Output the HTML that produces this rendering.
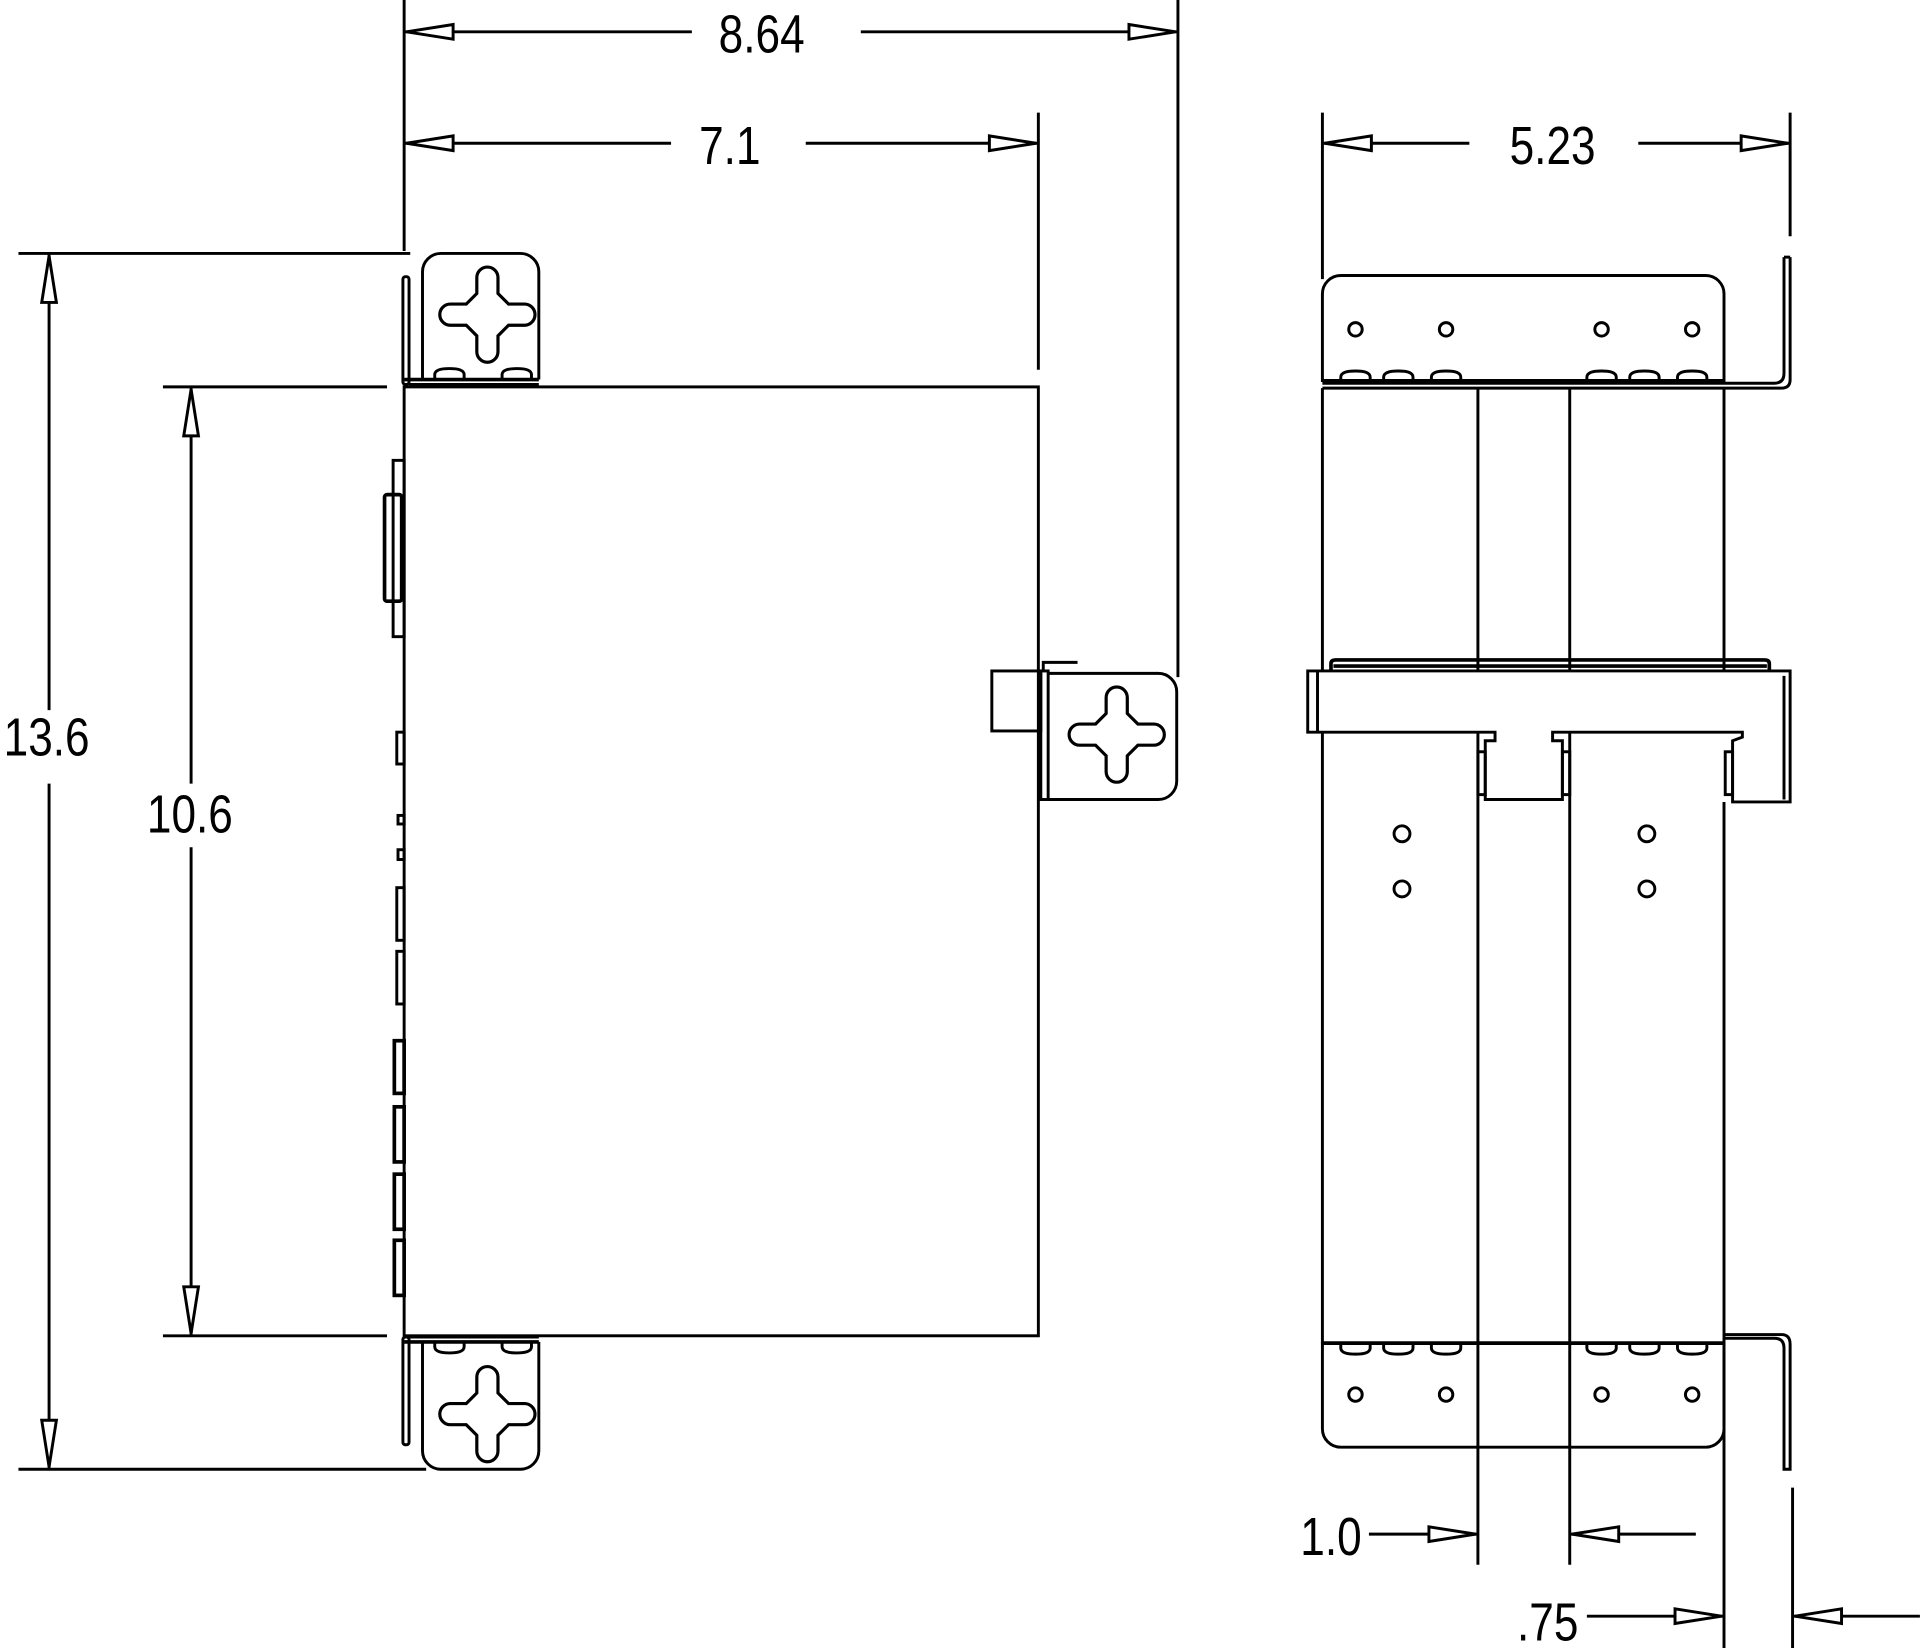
<!DOCTYPE html>
<html><head><meta charset="utf-8"><style>
html,body{margin:0;padding:0;background:#fff}
svg{display:block}
text{font-family:"Liberation Sans",sans-serif;font-size:44px;fill:#000}
</style></head><body>
<svg width="1920" height="1648" viewBox="0 0 1568 1346" xmlns="http://www.w3.org/2000/svg">
<defs>
<path id="key" d="M-8,-28 a8,8 0 0 1 16,0 v12 l8,8 h12 a8,8 0 0 1 0,16 h-12 l-8,8 v12 a8,8 0 0 1 -16,0 v-12 l-8,-8 h-12 a8,8 0 0 1 0,-16 h12 l8,-8 z" transform="scale(1.08)"/>
<path id="screw" d="M-12,4 v-4 q0,-5 12,-5 q12,0 12,5 v4 z"/>
</defs>
<g fill="none" stroke="#000" stroke-width="2.4">
<!-- ===== LEFT VIEW ===== -->
<rect x="330" y="316" width="518" height="775"/>
<path d="M345,310 V222 a15,15 0 0 1 15,-15 h65 a15,15 0 0 1 15,15 V310"/>
<line x1="330" y1="310" x2="440" y2="310" stroke-width="3"/>
<line x1="334" y1="314" x2="440" y2="314"/>
<rect x="329" y="226" width="5" height="88" rx="2"/>
<use href="#key" x="398" y="257"/>
<use href="#screw" x="367" y="306"/>
<use href="#screw" x="422" y="306"/>
<path d="M345,1096 V1185 a15,15 0 0 0 15,15 h65 a15,15 0 0 0 15,-15 V1096"/>
<line x1="330" y1="1096" x2="440" y2="1096" stroke-width="3"/>
<line x1="334" y1="1092" x2="440" y2="1092"/>
<rect x="329" y="1092" width="5" height="88" rx="2"/>
<use href="#key" x="398" y="1155"/>
<use href="#screw" x="367" y="1100" transform="rotate(180 367 1100)"/>
<use href="#screw" x="422" y="1100" transform="rotate(180 422 1100)"/>
<path d="M856,550 h90 a15,15 0 0 1 15,15 v73 a15,15 0 0 1 -15,15 h-90"/>
<rect x="850" y="548" width="6" height="105"/>
<path d="M852,548 v-7 h28"/>
<rect x="810" y="548" width="40" height="49"/>
<use href="#key" x="912" y="600"/>
<rect x="321" y="376" width="9" height="144"/>
<rect x="314" y="404" width="14" height="87" rx="2" stroke-width="3"/>
<rect x="324" y="598" width="6" height="26"/>
<rect x="325" y="666" width="5" height="7"/>
<rect x="325" y="694" width="5" height="8"/>
<rect x="324" y="725" width="6" height="43"/>
<rect x="324" y="777" width="6" height="43"/>
<g stroke-width="3">
<rect x="322" y="850" width="8" height="43"/>
<rect x="322" y="904" width="8" height="45"/>
<rect x="322" y="959" width="8" height="45"/>
<rect x="322" y="1013" width="8" height="45"/>
</g>
<line x1="330" y1="0" x2="330" y2="205"/>
<line x1="962" y1="0" x2="962" y2="553"/>
<line x1="848" y1="92" x2="848" y2="302"/>
<path d="M330,26 H565 M703,26 H962"/>
<path d="M330,117 H548 M658,117 H848"/>
<line x1="15" y1="207" x2="335" y2="207"/>
<line x1="15" y1="1200" x2="348" y2="1200"/>
<path d="M40,207 V580 M40,640 V1200"/>
<line x1="133" y1="316" x2="316" y2="316"/>
<line x1="133" y1="1091" x2="316" y2="1091"/>
<path d="M156,316 V640 M156,692 V1091"/>
<!-- ===== RIGHT VIEW ===== -->
<path d="M1080,312 V240 a15,15 0 0 1 15,-15 h298 a15,15 0 0 1 15,15 V312"/>
<line x1="1080" y1="311" x2="1408" y2="311" stroke-width="3"/>
<path d="M1457,210 V305 q0,8 -8,8 H1080"/>
<path d="M1462,210 V310 q0,7 -7,7 H1080"/>
<path d="M1457,210 h5"/>
<circle cx="1107" cy="269" r="5.5"/><circle cx="1181" cy="269" r="5.5"/>
<circle cx="1308" cy="269" r="5.5"/><circle cx="1382" cy="269" r="5.5"/>
<circle cx="1107" cy="1139" r="5.5"/><circle cx="1181" cy="1139" r="5.5"/>
<circle cx="1308" cy="1139" r="5.5"/><circle cx="1382" cy="1139" r="5.5"/>
<circle cx="1145" cy="681" r="6.5"/><circle cx="1145" cy="726" r="6.5"/>
<circle cx="1345" cy="681" r="6.5"/><circle cx="1345" cy="726" r="6.5"/>
<use href="#screw" x="1107" y="308"/><use href="#screw" x="1142" y="308"/><use href="#screw" x="1181" y="308"/>
<use href="#screw" x="1308" y="308"/><use href="#screw" x="1343" y="308"/><use href="#screw" x="1382" y="308"/>
<path d="M1080,317 V548 M1080,598 V1098"/>
<path d="M1207,317 V548 M1207,598 V1278"/>
<path d="M1282,317 V548 M1282,598 V1278"/>
<path d="M1408,317 V548 M1408,655 V1346"/>
<path d="M1087,548 v-6 q0,-3 4,-3 h350 q4,0 4,3 v6" stroke-width="3"/>
<line x1="1089" y1="544" x2="1443" y2="544" stroke-width="3"/>
<path d="M1068,548 H1462 V655 H1415 V605 l8,-3 V598 H1268 V605 l8,0 V653 H1213 V605 l8,0 V598 H1068 Z"/>
<line x1="1076" y1="548" x2="1076" y2="598"/>
<line x1="1457" y1="552" x2="1457" y2="653"/>
<rect x="1207" y="614" width="6" height="35"/>
<rect x="1276" y="614" width="6" height="35"/>
<rect x="1409" y="614" width="6" height="35"/>
<path d="M1080,1096 V1167 a15,15 0 0 0 15,15 h298 a15,15 0 0 0 15,-15 V1096"/>
<line x1="1080" y1="1097" x2="1408" y2="1097" stroke-width="3"/>
<path d="M1408,1093 H1449 q8,0 8,8 V1200 h5 V1098 q0,-8 -7,-8 H1408"/>
<use href="#screw" x="1107" y="1101" transform="rotate(180 1107 1101)"/><use href="#screw" x="1142" y="1101" transform="rotate(180 1142 1101)"/><use href="#screw" x="1181" y="1101" transform="rotate(180 1181 1101)"/>
<use href="#screw" x="1308" y="1101" transform="rotate(180 1308 1101)"/><use href="#screw" x="1343" y="1101" transform="rotate(180 1343 1101)"/><use href="#screw" x="1382" y="1101" transform="rotate(180 1382 1101)"/>
<line x1="1080" y1="92" x2="1080" y2="228"/>
<line x1="1462" y1="92" x2="1462" y2="193"/>
<path d="M1080,117 H1200 M1338,117 H1462"/>
<path d="M1118,1253 H1207 M1282,1253 H1385"/>
<line x1="1464" y1="1215" x2="1464" y2="1346"/>
<path d="M1296,1320 H1408 M1464,1320 H1568"/>
</g>
<g fill="#fff" stroke="#000" stroke-width="2.4">
<polygon points="332,26 370,20 370,32"/>
<polygon points="960,26 922,20 922,32"/>
<polygon points="332,117 370,111 370,123"/>
<polygon points="846,117 808,111 808,123"/>
<polygon points="40,209 34,247 46,247"/>
<polygon points="40,1198 34,1160 46,1160"/>
<polygon points="156,318 150,356 162,356"/>
<polygon points="156,1089 150,1051 162,1051"/>
<polygon points="1082,117 1120,111 1120,123"/>
<polygon points="1460,117 1422,111 1422,123"/>
<polygon points="1205,1253 1167,1247 1167,1259"/>
<polygon points="1284,1253 1322,1247 1322,1259"/>
<polygon points="1406,1320 1368,1314 1368,1326"/>
<polygon points="1466,1320 1504,1314 1504,1326"/>
</g>
<g text-anchor="middle">
<text transform="translate(622,43) scale(0.82,1)">8.64</text>
<text transform="translate(596,134) scale(0.82,1)">7.1</text>
<text transform="translate(38,617) scale(0.82,1)">13.6</text>
<text transform="translate(155,680) scale(0.82,1)">10.6</text>
<text transform="translate(1268,134) scale(0.82,1)">5.23</text>
<text transform="translate(1087,1270) scale(0.82,1)">1.0</text>
<text transform="translate(1264,1340) scale(0.82,1)">.75</text>
</g>
</svg>
</body></html>
